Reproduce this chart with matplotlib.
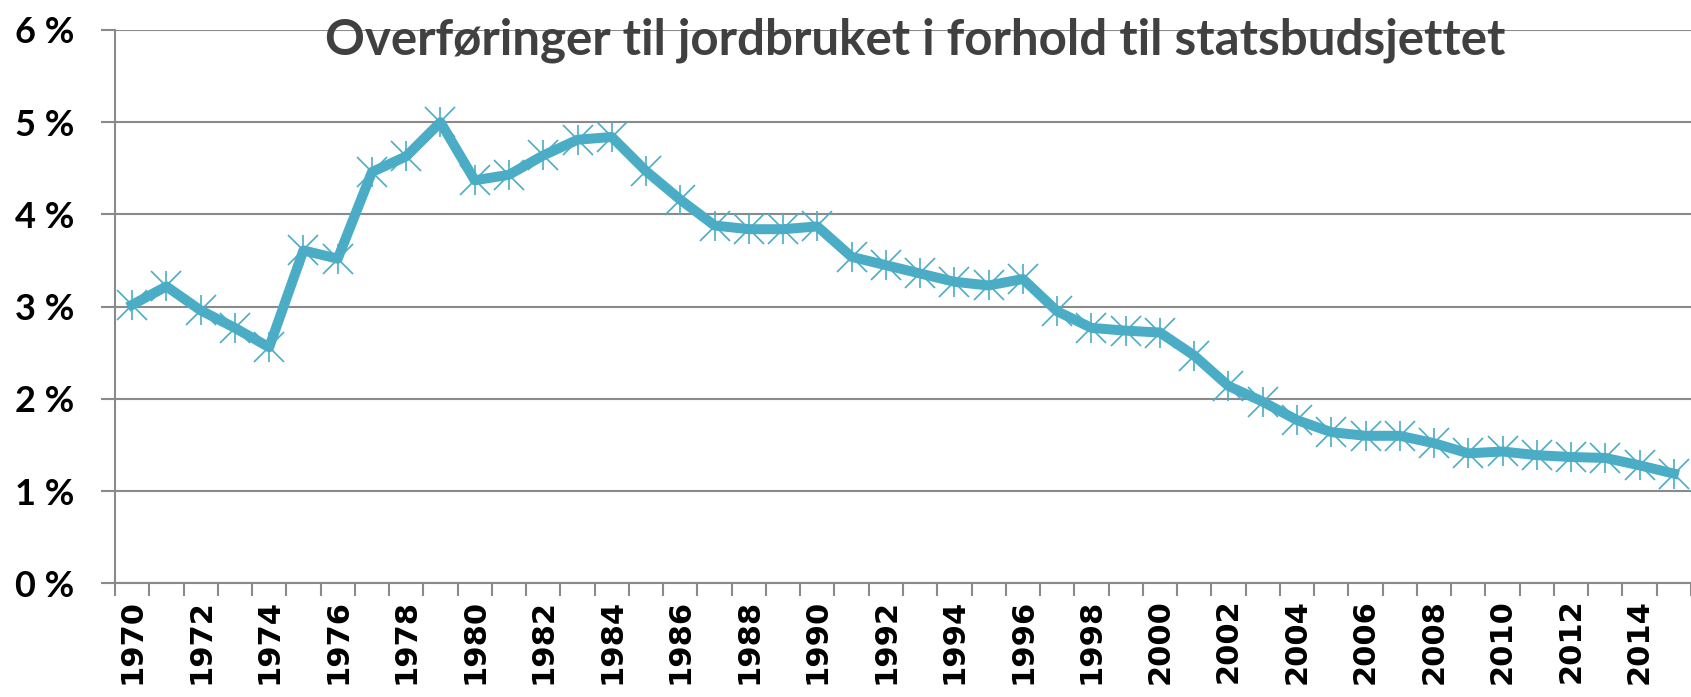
import matplotlib
matplotlib.use("Agg")
import matplotlib.pyplot as plt
import numpy as np

# === Данные ===
years = list(range(1970, 2016))
share = [3.02, 3.22, 2.96, 2.77, 2.56, 3.61, 3.52, 4.46, 4.63, 5.00,
         4.37, 4.43, 4.64, 4.81, 4.84, 4.47, 4.16, 3.88, 3.84, 3.84,
         3.87, 3.54, 3.45, 3.36, 3.27, 3.23, 3.30, 2.95, 2.77, 2.74,
         2.72, 2.47, 2.14, 1.97, 1.77, 1.64, 1.60, 1.60, 1.52, 1.41,
         1.43, 1.39, 1.37, 1.36, 1.28, 1.19]
y_ticks = [0, 1, 2, 3, 4, 5, 6]
title = "Overføringer til jordbruket i forhold til statsbudsjettet"

line_color = "#4BACC6"
grid_color = "#8a8a8a"

fig = plt.figure(figsize=(16.91, 6.97), dpi=100)
ax = fig.add_axes([0.068, 0.163, 0.932, 0.794])

x = np.arange(len(years))
ax.plot(x, share, color=line_color, lw=7.2, solid_joinstyle="round", zorder=3, clip_on=False)
ax.plot(x, share, 'x', color=line_color, ms=21, mew=1.2, zorder=4, clip_on=False)
ax.plot(x, share, '|', color=line_color, ms=21, mew=1.2, zorder=4, clip_on=False)

ax.set_xlim(-0.5, 45.12)
ax.set_ylim(0, 6)

# y-akse
ax.set_yticks(y_ticks)
ax.set_yticklabels([f"{v} %" for v in y_ticks], fontsize=26, fontweight="bold", family=["Lato", "DejaVu Sans"])
ax.tick_params(axis="y", length=10, width=1.5, color=grid_color, pad=19)
ax.grid(True, axis="y", color=grid_color, lw=1.5, zorder=1)

# x-akse
ax.set_xticks(x[::2])
ax.set_xticklabels([str(y) for y in years[::2]], rotation=90, fontsize=22, fontweight="bold")
ax.set_xticks(np.arange(-0.5, len(years), 1), minor=True)
ax.tick_params(axis="x", which="major", length=0, pad=11)
ax.tick_params(axis="x", which="minor", length=9, width=1.5, color=grid_color)

for s in ["top", "right"]:
    ax.spines[s].set_visible(False)
for s in ["left", "bottom"]:
    ax.spines[s].set_color(grid_color)
    ax.spines[s].set_linewidth(1.5)

fig.text(0.541, 0.942, title, ha="center", va="center", fontsize=35.5, fontweight="bold",
         color="#404040", family=["Lato", "DejaVu Sans"])

fig.savefig("out.png", dpi=100)
